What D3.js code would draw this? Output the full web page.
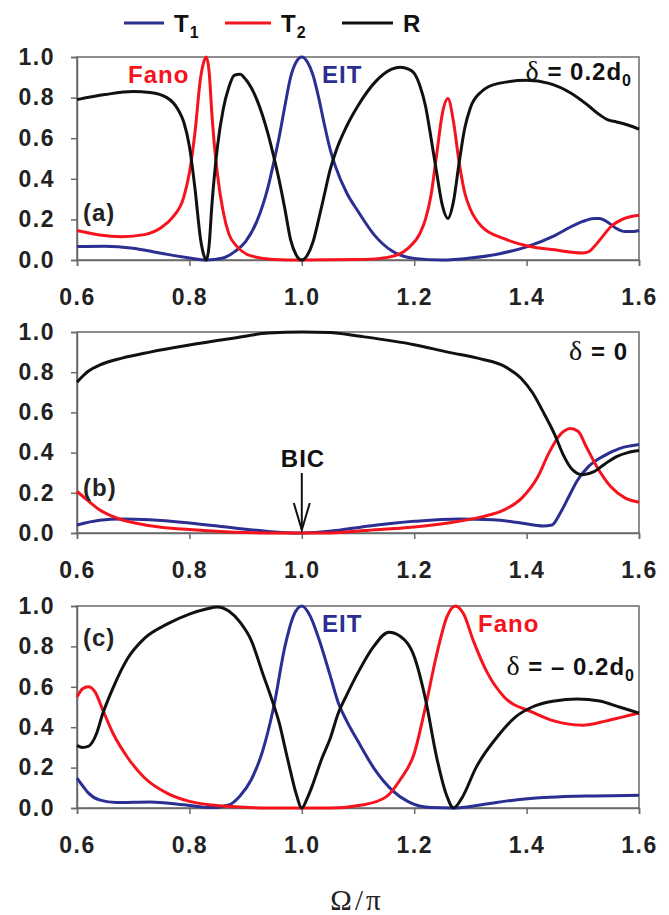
<!DOCTYPE html>
<html>
<head>
<meta charset="utf-8">
<script src="https://cdn.jsdelivr.net/npm/d3@7"></script>
<style>
  body { margin: 0; background: #fff; }
  svg { display: block; }
  .tick text { font-family: "Liberation Sans", Arial, sans-serif; font-weight: bold; font-size: 23px; fill: #222; letter-spacing: 1.5px; }
  .tick line, .domain { stroke: #6a6a6a; stroke-width: 1.5; }
  .lbl { font-family: "Liberation Sans", Arial, sans-serif; font-weight: bold; font-size: 24px; letter-spacing: 1px; }
  .serif { font-family: "Liberation Serif", "Times New Roman", serif; font-weight: normal; }
</style>
</head>
<body>
<div id="chart"></div>
<script>
const w = 669;
const h = 915;

// x values are Omega/pi, y values are T1, T2, R
const xTicks = [0.6, 0.8, 1.0, 1.2, 1.4, 1.6];
const yTicks = [0.0, 0.2, 0.4, 0.6, 0.8, 1.0];

// panel (a), delta = 0.2 d0
const aT1 = [[0.6,0.066],[0.65,0.068],[0.7,0.058],[0.75,0.033],[0.8,0.01],[0.83,0.0],[0.86,0.01],[0.88,0.04],[0.9,0.09],[0.92,0.19],[0.94,0.36],[0.95,0.48],[0.96,0.61],[0.97,0.76],[0.98,0.9],[0.99,0.975],[1.0,1.0],[1.01,0.975],[1.02,0.91],[1.03,0.8],[1.04,0.67],[1.05,0.55],[1.06,0.46],[1.08,0.33],[1.1,0.24],[1.13,0.12],[1.16,0.045],[1.2,0.008],[1.25,0.0],[1.3,0.01],[1.35,0.03],[1.4,0.065],[1.45,0.12],[1.48,0.165],[1.5,0.19],[1.52,0.205],[1.53,0.205],[1.545,0.185],[1.56,0.155],[1.575,0.14],[1.59,0.14],[1.6,0.145]];
const aT2 = [[0.6,0.145],[0.64,0.123],[0.68,0.115],[0.72,0.125],[0.75,0.16],[0.77,0.21],[0.79,0.31],[0.8,0.43],[0.81,0.63],[0.82,0.9],[0.825,0.97],[0.83,1.0],[0.835,0.93],[0.84,0.72],[0.845,0.55],[0.85,0.42],[0.86,0.24],[0.87,0.13],[0.885,0.066],[0.91,0.02],[0.95,0.003],[1.0,0.0],[1.1,0.002],[1.14,0.008],[1.17,0.025],[1.19,0.06],[1.21,0.13],[1.22,0.2],[1.23,0.32],[1.24,0.52],[1.25,0.72],[1.26,0.795],[1.27,0.68],[1.28,0.48],[1.29,0.33],[1.3,0.25],[1.32,0.165],[1.36,0.105],[1.4,0.07],[1.45,0.05],[1.5,0.035],[1.51,0.04],[1.52,0.065],[1.535,0.115],[1.55,0.165],[1.57,0.2],[1.6,0.22]];
const aR = [[0.6,0.79],[0.65,0.815],[0.7,0.83],[0.73,0.825],[0.76,0.8],[0.78,0.74],[0.79,0.68],[0.8,0.56],[0.81,0.35],[0.82,0.1],[0.825,0.03],[0.83,0.0],[0.835,0.07],[0.84,0.27],[0.845,0.43],[0.85,0.56],[0.86,0.74],[0.87,0.85],[0.88,0.91],[0.89,0.915],[0.9,0.89],[0.92,0.79],[0.94,0.62],[0.95,0.51],[0.96,0.39],[0.97,0.25],[0.98,0.1],[0.99,0.025],[1.0,0.0],[1.01,0.025],[1.02,0.09],[1.03,0.2],[1.04,0.32],[1.05,0.44],[1.06,0.53],[1.08,0.66],[1.1,0.76],[1.13,0.875],[1.16,0.94],[1.175,0.95],[1.19,0.94],[1.2,0.92],[1.21,0.86],[1.22,0.76],[1.23,0.6],[1.24,0.43],[1.25,0.27],[1.26,0.205],[1.27,0.29],[1.28,0.48],[1.29,0.65],[1.3,0.75],[1.32,0.83],[1.35,0.87],[1.4,0.885],[1.44,0.87],[1.48,0.82],[1.51,0.76],[1.53,0.715],[1.545,0.69],[1.56,0.68],[1.58,0.665],[1.6,0.645]];

// panel (b), delta = 0
const bT1 = [[0.6,0.04],[0.64,0.063],[0.68,0.07],[0.73,0.066],[0.8,0.05],[0.88,0.025],[0.94,0.008],[1.0,0.0],[1.06,0.012],[1.12,0.035],[1.2,0.058],[1.28,0.07],[1.34,0.066],[1.39,0.05],[1.43,0.035],[1.445,0.04],[1.46,0.1],[1.475,0.18],[1.49,0.26],[1.51,0.33],[1.535,0.38],[1.565,0.42],[1.6,0.44]];
const bT2 = [[0.6,0.207],[0.62,0.16],[0.64,0.116],[0.67,0.075],[0.73,0.036],[0.8,0.017],[0.88,0.004],[0.95,0.0],[1.05,0.0],[1.11,0.012],[1.2,0.03],[1.26,0.05],[1.32,0.08],[1.36,0.115],[1.39,0.17],[1.42,0.28],[1.44,0.4],[1.46,0.49],[1.478,0.52],[1.492,0.505],[1.506,0.43],[1.525,0.33],[1.55,0.23],[1.575,0.175],[1.6,0.153]];
const bR = [[0.6,0.75],[0.61,0.78],[0.62,0.805],[0.64,0.835],[0.68,0.87],[0.73,0.9],[0.8,0.935],[0.88,0.97],[0.94,0.995],[1.0,1.0],[1.05,0.998],[1.1,0.98],[1.2,0.937],[1.26,0.9],[1.32,0.865],[1.36,0.83],[1.39,0.77],[1.41,0.7],[1.43,0.6],[1.45,0.49],[1.465,0.39],[1.48,0.32],[1.5,0.29],[1.52,0.305],[1.54,0.345],[1.56,0.38],[1.58,0.4],[1.6,0.41]];

// panel (c), delta = -0.2 d0
const cT1 = [[0.6,0.148],[0.61,0.11],[0.62,0.075],[0.64,0.04],[0.67,0.027],[0.73,0.03],[0.79,0.016],[0.84,0.002],[0.87,0.015],[0.89,0.06],[0.91,0.14],[0.93,0.28],[0.95,0.5],[0.97,0.8],[0.985,0.95],[1.0,1.0],[1.015,0.95],[1.03,0.84],[1.05,0.66],[1.065,0.52],[1.08,0.43],[1.1,0.33],[1.13,0.19],[1.16,0.09],[1.19,0.03],[1.23,0.002],[1.27,0.0],[1.32,0.016],[1.38,0.04],[1.44,0.053],[1.52,0.06],[1.6,0.063]];
const cT2 = [[0.6,0.55],[0.61,0.59],[0.62,0.6],[0.632,0.575],[0.646,0.485],[0.664,0.37],[0.69,0.25],[0.72,0.15],[0.76,0.074],[0.8,0.033],[0.84,0.015],[0.89,0.005],[0.94,0.0],[1.05,0.0],[1.11,0.016],[1.15,0.055],[1.175,0.14],[1.2,0.27],[1.22,0.5],[1.24,0.76],[1.258,0.945],[1.273,1.0],[1.288,0.96],[1.305,0.83],[1.33,0.67],[1.36,0.55],[1.41,0.475],[1.45,0.43],[1.5,0.41],[1.54,0.43],[1.57,0.45],[1.6,0.47]];
const cR = [[0.6,0.31],[0.61,0.3],[0.62,0.305],[0.635,0.37],[0.645,0.46],[0.665,0.6],[0.69,0.74],[0.72,0.84],[0.76,0.91],[0.8,0.96],[0.83,0.985],[0.85,0.995],[0.87,0.975],[0.89,0.92],[0.91,0.83],[0.93,0.67],[0.95,0.51],[0.96,0.42],[0.97,0.3],[0.98,0.18],[0.99,0.07],[1.0,0.0],[1.01,0.05],[1.02,0.12],[1.035,0.24],[1.05,0.34],[1.065,0.47],[1.08,0.56],[1.1,0.67],[1.128,0.8],[1.155,0.87],[1.175,0.85],[1.2,0.75],[1.22,0.54],[1.24,0.25],[1.258,0.06],[1.27,0.0],[1.285,0.05],[1.31,0.2],[1.35,0.36],[1.38,0.45],[1.41,0.5],[1.45,0.53],[1.49,0.54],[1.53,0.53],[1.565,0.5],[1.6,0.47]];

const blue = "#2b2f92";
const red = "#f5141e";
const black = "#111";

const svg = d3.select("#chart")
    .append("svg")
    .attr("width", w)
    .attr("height", h);

const xScale = d3.scaleLinear()
    .domain([0.6, 1.6])
    .range([77, 639]);

// vertical placement of the three panels
const panels = [
    {top: 57, bottom: 260, series: [aT1, aT2, aR]},
    {top: 332, bottom: 533, series: [bT1, bT2, bR]},
    {top: 606, bottom: 808, series: [cT1, cT2, cR]}
];
const colours = [blue, red, black];

panels.forEach(function(p) {
    p.y = d3.scaleLinear().domain([0, 1]).range([p.bottom, p.top]);

    // frame (top and right edges)
    svg.append("rect")
        .attr("x", xScale(0.6))
        .attr("y", p.top)
        .attr("width", xScale(1.6) - xScale(0.6))
        .attr("height", p.bottom - p.top)
        .attr("fill", "none")
        .attr("stroke", "#6a6a6a")
        .attr("stroke-width", 1.5);

    svg.append("g")
        .attr("transform", `translate(0,${p.bottom})`)
        .call(d3.axisBottom(xScale).tickValues(xTicks).tickSize(6).tickPadding(23).tickFormat(d3.format(".1f")));

    svg.append("g")
        .attr("transform", `translate(${xScale(0.6)},0)`)
        .call(d3.axisLeft(p.y).tickValues(yTicks).tickSize(6).tickPadding(16).tickFormat(d3.format(".1f")));

    const line = d3.line()
        .x(function(d) { return xScale(d[0]); })
        .y(function(d) { return p.y(d[1]); })
        .curve(d3.curveMonotoneX);

    p.series.forEach(function(s, i) {
        svg.append("path")
            .datum(s)
            .attr("fill", "none")
            .attr("stroke", colours[i])
            .attr("stroke-width", 3)
            .attr("stroke-linejoin", "round")
            .attr("d", line);
    });
});

svg.selectAll(".domain").attr("stroke", "#6a6a6a");

// legend
const legend = [
    {x1: 124, x2: 164, colour: blue, name: "T", sub: "1"},
    {x1: 225, x2: 271, colour: red, name: "T", sub: "2"},
    {x1: 342, x2: 393, colour: black, name: "R", sub: ""}
];
legend.forEach(function(l) {
    svg.append("line")
        .attr("x1", l.x1).attr("x2", l.x2)
        .attr("y1", 23).attr("y2", 23)
        .attr("stroke", l.colour)
        .attr("stroke-width", 3);
    const t = svg.append("text")
        .attr("class", "lbl")
        .attr("x", l.x2 + 10)
        .attr("y", 32)
        .attr("fill", "#111")
        .text(l.name);
    if (l.sub) {
        t.append("tspan").attr("dy", 6).attr("font-size", 16).text(l.sub);
    }
});

function label(x, y, colour, txt, anchor) {
    return svg.append("text")
        .attr("class", "lbl")
        .attr("x", x)
        .attr("y", y)
        .attr("fill", colour)
        .attr("text-anchor", anchor || "start")
        .text(txt);
}

function deltaLabel(x, y, rest, sub) {
    const t = svg.append("text")
        .attr("class", "lbl")
        .attr("x", x)
        .attr("y", y)
        .attr("fill", "#111")
        .attr("text-anchor", "end");
    t.append("tspan").attr("class", "serif").attr("font-size", 28).text("δ");
    t.append("tspan").text(rest);
    if (sub) {
        t.append("tspan").attr("dy", 6).attr("font-size", 16).text(sub);
    }
}

// panel (a)
label(83, 221, "#222", "(a)");
label(128, 83, red, "Fano");
label(322, 83, blue, "EIT");
deltaLabel(632, 80, " = 0.2d", "0");

// panel (b)
label(83, 496, "#222", "(b)");
label(303, 467, "#111", "BIC", "middle");
deltaLabel(628, 360, " = 0", "");
const bicX = xScale(1.0);
const pb = panels[1];
svg.append("line")
    .attr("x1", bicX).attr("x2", bicX)
    .attr("y1", 473).attr("y2", pb.y(0) - 3)
    .attr("stroke", "#111").attr("stroke-width", 2);
svg.append("path")
    .attr("d", `M${bicX - 8},${pb.y(0) - 30}L${bicX},${pb.y(0) - 3}L${bicX + 8},${pb.y(0) - 30}`)
    .attr("fill", "none")
    .attr("stroke", "#111")
    .attr("stroke-width", 2);

// panel (c)
label(83, 646, "#222", "(c)");
label(322, 632, blue, "EIT");
label(478, 632, red, "Fano");
deltaLabel(635, 675, " = – 0.2d", "0");

// x axis title
svg.append("text")
    .attr("class", "serif")
    .attr("x", 357)
    .attr("y", 910)
    .attr("text-anchor", "middle")
    .attr("font-size", 29)
    .attr("letter-spacing", 3)
    .attr("fill", "#222")
    .text("Ω/π");
</script>
</body>
</html>
